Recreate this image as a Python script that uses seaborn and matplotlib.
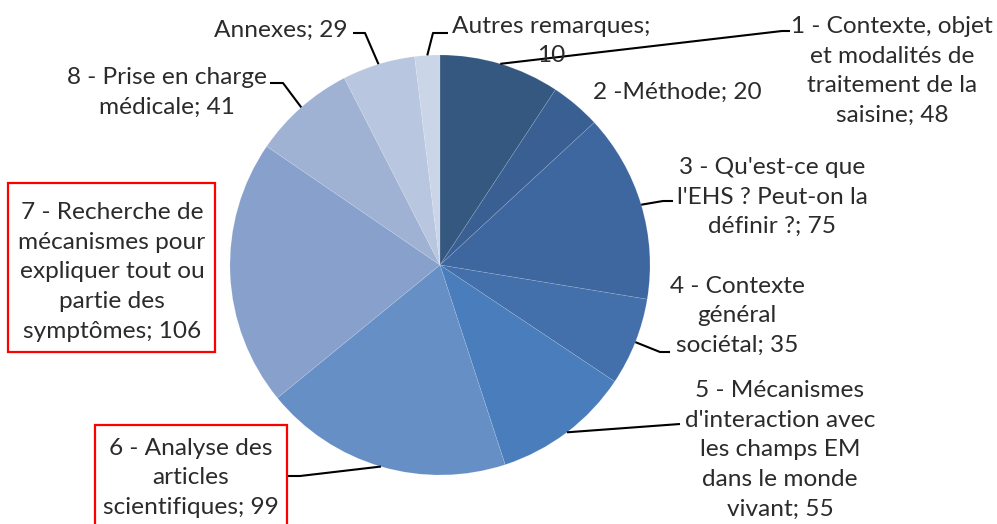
import numpy as np
import seaborn as sns
import matplotlib.pyplot as plt
from matplotlib.patches import Rectangle

sns.set_style("white")
plt.rcParams['font.family'] = ['Lato', 'DejaVu Sans']

labels = ["1 - Contexte, objet\net modalités de\ntraitement de la\nsaisine; 48",
          "2 -Méthode; 20",
          "3 - Qu'est-ce que\nl'EHS ? Peut-on la\ndéfinir ?; 75",
          "4 - Contexte\ngénéral\nsociétal; 35",
          "5 - Mécanismes\nd'interaction avec\nles champs EM\ndans le monde\nvivant; 55",
          "6 - Analyse des\narticles\nscientifiques; 99",
          "7 - Recherche de\nmécanismes pour\nexpliquer tout ou\npartie des\nsymptômes; 106",
          "8 - Prise en charge\nmédicale; 41",
          "Annexes; 29",
          "Autres remarques;\n10"]
values = [48, 20, 75, 35, 55, 99, 106, 41, 29, 10]
colors = ["#34587f", "#3a5f92", "#3e67a0", "#4370ab", "#4a7dbb",
          "#668fc5", "#87a1cc", "#a0b2d4", "#b9c6df", "#cbd5e8"]

W, H = 997, 524
fig = plt.figure(figsize=(W / 100, H / 100), dpi=100)
ax = fig.add_axes([0, 0, 1, 1])

cx, cy, r = 440, H - 265, 210
wedges, _ = ax.pie(values, colors=colors, startangle=90, counterclock=False,
                   center=(cx, cy), radius=r,
                   wedgeprops=dict(edgecolor=(1, 1, 1, 0.15), linewidth=0.5))
ax.set_xlim(0, W)
ax.set_ylim(0, H)
ax.set_aspect('equal')
ax.axis('off')

# label placement (pixel coords, y from top): text center, leader path after the wedge anchor
layout = [
    dict(xy=(892, 71), path=[(782, 31), (790, 31)]),
    dict(xy=(677, 92), path=None),
    dict(xy=(772, 197), path=[(663, 201), (673, 201)]),
    dict(xy=(737, 316), path=[(660, 352), (670, 352)]),
    dict(xy=(780, 450), path=[(680, 424)]),
    dict(xy=(191, 478), path=[(300, 476), (288, 476)]),
    dict(xy=(112, 272), path=None),
    dict(xy=(167, 92), path=[(283, 83), (270, 83)]),
    dict(xy=(281, 30), path=[(365, 33), (353, 33)]),
    dict(xy=(551, 41), path=[(433, 33), (448, 33)]),
]

for w, lab, lay in zip(wedges, labels, layout):
    tx, ty = lay['xy']
    ax.text(tx, H - ty, lab, ha='center', va='center', fontsize=17.6,
            color='#2b2b2b', linespacing=1.52)
    if lay['path'] is not None:
        mid = np.deg2rad((w.theta1 + w.theta2) / 2)
        xs = [cx + r * np.cos(mid)] + [p[0] for p in lay['path']]
        ys = [cy + r * np.sin(mid)] + [H - p[1] for p in lay['path']]
        ax.plot(xs, ys, color='black', lw=1.5, solid_capstyle='butt')

# red highlight boxes
ax.add_patch(Rectangle((8, H - 352), 207, 169, fill=False, edgecolor='red', lw=1.6))
ax.add_patch(Rectangle((95, H - 540), 192, 115, fill=False, edgecolor='red', lw=1.6))

fig.savefig('out.png', dpi=100, facecolor='white')
